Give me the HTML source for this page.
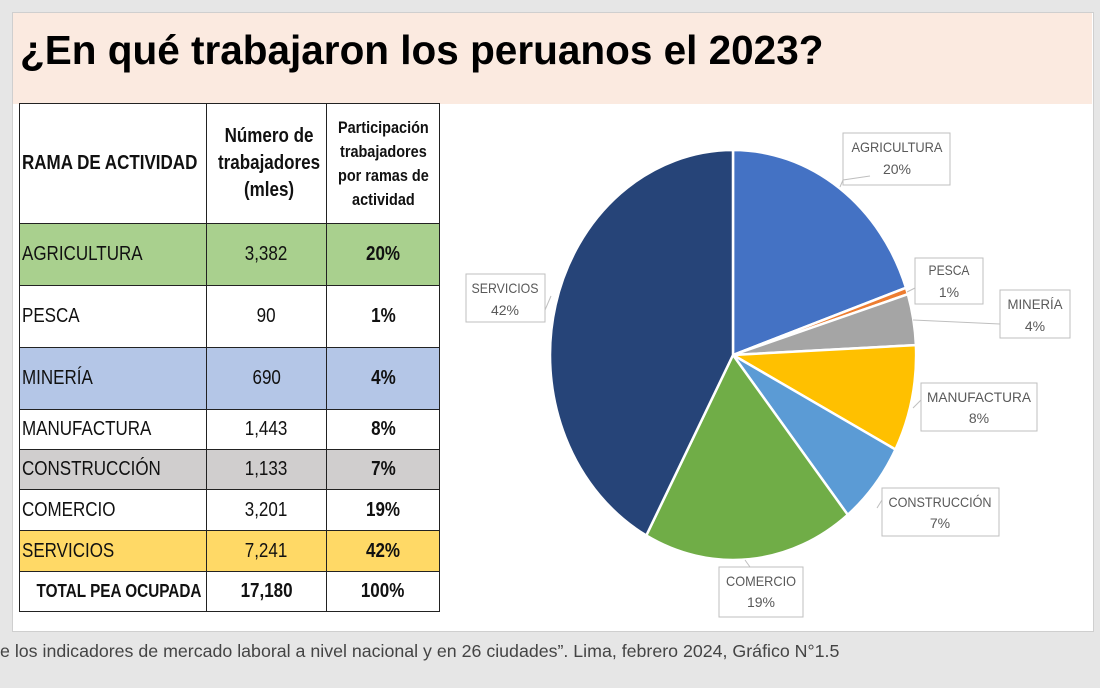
<!DOCTYPE html>
<html><head><meta charset="utf-8"><style>
body{margin:0;width:1100px;height:688px;background:#e6e6e6;position:relative;overflow:hidden;font-family:"Liberation Sans",sans-serif}
#slide{position:absolute;left:12px;top:12px;width:1080px;height:618px;background:#fff;border:1px solid #cfcfcf}
#hdr{position:absolute;left:13px;top:13px;width:1079px;height:91px;background:#fbeae0}
#title{position:absolute;left:20px;top:27px;font-size:40.5px;font-weight:bold;color:#000;white-space:nowrap}
table{position:absolute;left:19px;top:103px;width:420px;border-collapse:collapse;font-size:20px;table-layout:fixed}
td{border:1.5px solid #222;padding:0 2px;text-align:center;color:#111;white-space:nowrap;overflow:visible}
td span{display:inline-block;transform:scaleX(0.85);transform-origin:center}
td.l span{transform-origin:left}
td.l{text-align:left}
#foot{position:absolute;left:0;top:641px;font-size:17.8px;color:#444;white-space:nowrap}
svg{position:absolute;left:0;top:0}
</style></head><body>
<div id="slide"></div><div id="hdr"></div>
<div id="title">¿En qué trabajaron los peruanos el 2023?</div>
<table>
<colgroup><col style="width:187px"><col style="width:120px"><col style="width:113px"></colgroup>
<tr style="height:120px"><td class="l" style="font-weight:bold"><span>RAMA DE ACTIVIDAD</span></td><td style="font-weight:bold;line-height:27px"><span>Número de<br>trabajadores<br>(mles)</span></td><td style="font-weight:bold;font-size:17px;line-height:24px"><span>Participación<br>trabajadores<br>por ramas de<br>actividad</span></td></tr>
<tr style="height:62px;background:#a9d08e"><td class="l"><span>AGRICULTURA</span></td><td><span>3,382</span></td><td><b><span>20%</span></b></td></tr>
<tr style="height:62px"><td class="l"><span>PESCA</span></td><td><span>90</span></td><td><b><span>1%</span></b></td></tr>
<tr style="height:62px;background:#b4c6e7"><td class="l"><span>MINERÍA</span></td><td><span>690</span></td><td><b><span>4%</span></b></td></tr>
<tr style="height:40px"><td class="l"><span>MANUFACTURA</span></td><td><span>1,443</span></td><td><b><span>8%</span></b></td></tr>
<tr style="height:40px;background:#d0cece"><td class="l"><span>CONSTRUCCIÓN</span></td><td><span>1,133</span></td><td><b><span>7%</span></b></td></tr>
<tr style="height:41px"><td class="l"><span>COMERCIO</span></td><td><span>3,201</span></td><td><b><span>19%</span></b></td></tr>
<tr style="height:41px;background:#ffd966"><td class="l"><span>SERVICIOS</span></td><td><span>7,241</span></td><td><b><span>42%</span></b></td></tr>
<tr style="height:40px"><td style="font-weight:bold;font-size:18px"><span>TOTAL PEA OCUPADA</span></td><td><b><span>17,180</span></b></td><td><b><span>100%</span></b></td></tr>
</table>
<svg width="1100" height="688">
<g transform="translate(733,355) scale(0.893,1)" stroke="#fff" stroke-width="2.5" stroke-linejoin="round">
<path vector-effect="non-scaling-stroke" fill="#4472c4" d="M0,0 L0,-205 A205,205 0 0 1 193.7,-67.2Z"/>
<path vector-effect="non-scaling-stroke" fill="#ed7d31" d="M0,0 L193.7,-67.2 A205,205 0 0 1 195.8,-60.8Z"/>
<path vector-effect="non-scaling-stroke" fill="#a5a5a5" d="M0,0 L195.8,-60.8 A205,205 0 0 1 204.8,-9.9Z"/>
<path vector-effect="non-scaling-stroke" fill="#ffc000" d="M0,0 L204.8,-9.9 A205,205 0 0 1 181.9,94.5Z"/>
<path vector-effect="non-scaling-stroke" fill="#5b9bd5" d="M0,0 L181.9,94.5 A205,205 0 0 1 128.5,159.8Z"/>
<path vector-effect="non-scaling-stroke" fill="#70ad47" d="M0,0 L128.5,159.8 A205,205 0 0 1 -97.1,180.5Z"/>
<path vector-effect="non-scaling-stroke" fill="#264478" d="M0,0 L-97.1,180.5 A205,205 0 0 1 0,-205Z"/>
</g>
<g fill="#fff" stroke="#bfbfbf" stroke-width="1">
<rect x="843" y="133" width="107" height="52"/>
<rect x="915" y="258" width="68" height="46"/>
<rect x="1000" y="290" width="70" height="48"/>
<rect x="921" y="383" width="116" height="48"/>
<rect x="882" y="488" width="117" height="48"/>
<rect x="719" y="567" width="84" height="50"/>
<rect x="466" y="274" width="79" height="48"/>
</g>
<g stroke="#bfbfbf" fill="none">
<path d="M840,187 L843,180 L870,176"/>
<path d="M907,292 L915,288"/>
<path d="M913,320 L1000,324"/>
<path d="M913,408 L921,400"/>
<path d="M877,508 L882,500"/>
<path d="M745,560 L750,567"/>
<path d="M551,296 L545,310"/>
</g>
<g font-family="Liberation Sans, sans-serif" font-size="14" fill="#595959" text-anchor="middle">
<text x="897" y="152" textLength="91" lengthAdjust="spacingAndGlyphs">AGRICULTURA</text><text x="897" y="174">20%</text>
<text x="949" y="275" textLength="41" lengthAdjust="spacingAndGlyphs">PESCA</text><text x="949" y="297">1%</text>
<text x="1035" y="309" textLength="55" lengthAdjust="spacingAndGlyphs">MINERÍA</text><text x="1035" y="331">4%</text>
<text x="979" y="402" textLength="104" lengthAdjust="spacingAndGlyphs">MANUFACTURA</text><text x="979" y="423">8%</text>
<text x="940" y="507" textLength="103" lengthAdjust="spacingAndGlyphs">CONSTRUCCIÓN</text><text x="940" y="528">7%</text>
<text x="761" y="586" textLength="70" lengthAdjust="spacingAndGlyphs">COMERCIO</text><text x="761" y="607">19%</text>
<text x="505" y="293" textLength="67" lengthAdjust="spacingAndGlyphs">SERVICIOS</text><text x="505" y="315">42%</text>
</g>
</svg>
<div id="foot">e los indicadores de mercado laboral a nivel nacional y en 26 ciudades”. Lima, febrero 2024, Gráfico N°1.5</div>
</body></html>
